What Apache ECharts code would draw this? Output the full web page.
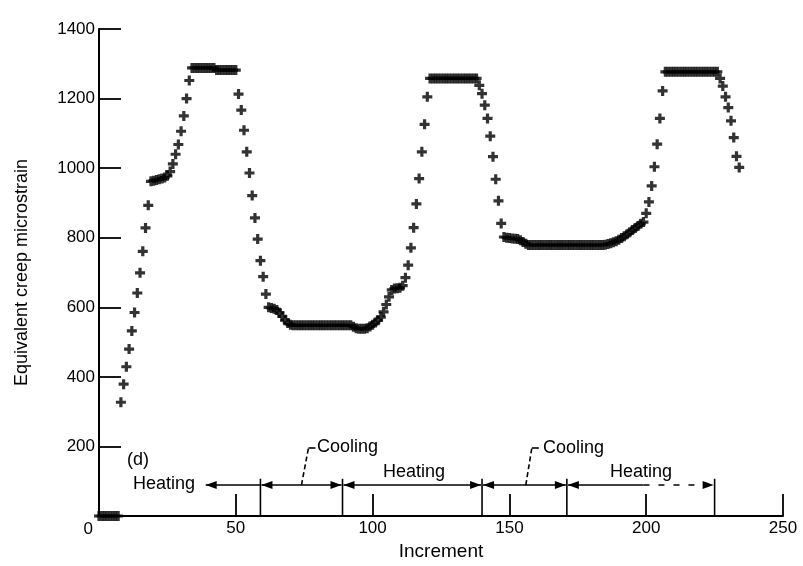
<!DOCTYPE html>
<html><head><meta charset="utf-8">
<script src="https://cdn.jsdelivr.net/npm/echarts@6/dist/echarts.min.js"></script>
<style>html,body{margin:0;padding:0;background:#fff}#c{width:803px;height:566px}</style>
</head><body><div id="c"></div>
<script>
// ---- data: equivalent creep microstrain, one value per increment ----
const heating1Start = 0;
const heating1 = [0,0,0,0,0,0,0,0,
  327,379,429,480,532,585,641,699,761,828,893,
  962,964,966,968,970,973,978,
  990,1012,1040,1068,1106,1150,1200,1252,
  1288,1288,1288,1288,1288,1288,1288,1288,1288,
  1282,1282,1282,1282,1282,1282,1282,1282,
  1213,1167,1109,1047,986,921,857,796];
const cooling1Start = 59;
const cooling1 = [734,688,638,
  600,598,596,592,584,574,563,555,550,
  548,548,548,548,548,548,548,548,548,548,548,548,548,548,548,548,548,548,548];
const heating2Start = 90;
const heating2 = [548,548,548,
  544,540,538,538,538,540,
  545,550,556,563,572,587,608,630,650,654,655,656,662,
  685,721,771,829,897,970,1047,1126,1205,
  1258,1258,1258,1258,1258,1258,1258,1258,1258,1258,1258,1258,1258,1258,1258,1258,1258,1258,
  1238,1214];
const cooling2Start = 141;
const cooling2 = [1181,1143,1092,1033,968,906,841,
  802,800,799,798,797,796,793,788,783,
  779,779,779,779,779,779,779,779,779,779,779,779,779,779,779];
const heating3Start = 172;
const heating3 = [779,779,779,779,779,779,779,779,779,779,779,779,779,
  780,782,784,787,790,794,799,804,810,816,822,828,834,840,
  845,870,903,949,1004,1069,1143,1222,
  1277,1277,1277,1277,1277,1277,1277,1277,1277,1277,1277,1277,1277,1277,1277,1277,1277,1277,1277,1277,
  1258,1236,1205,1174,1136,1088,1034,1002];

// ---- axis ticks ----
const xTicks = [0, 50, 100, 150, 200, 250];
const yTicks = [0, 200, 400, 600, 800, 1000, 1200, 1400];

// ---- annotation (in data units) ----
const phaseBounds = [59, 89, 140, 171, 225];
const firstArrowTip = 39;
const arrowLevel = 89;
const boundTop = 107;

const segments = [[heating1Start, heating1],[cooling1Start, cooling1],[heating2Start, heating2],[cooling2Start, cooling2],[heating3Start, heating3]];
const points = [];
segments.forEach(([s, arr]) => arr.forEach((v, i) => points.push([s + i, v])));

const numFont = "'Liberation Sans','Arial',sans-serif";
const txtFont = "'Liberation Sans','Arial',sans-serif";
const ink = '#000';
const plus = 'path://M3.4,0H6.6V3.4H10V6.6H6.6V10H3.4V6.6H0V3.4H3.4Z';

const chart = echarts.init(document.getElementById('c'), null, {renderer:'canvas'});
chart.setOption({
  animation:false,
  backgroundColor:'#fff',
  grid:{left:99, right:20, top:29, bottom:50},
  xAxis:{type:'value', min:xTicks[0], max:xTicks[xTicks.length-1], interval:50,
    name:'Increment', nameLocation:'middle', nameGap:24,
    nameTextStyle:{fontFamily:txtFont, fontSize:19, color:ink},
    axisLine:{lineStyle:{color:ink, width:2}},
    axisTick:{inside:true, length:22, lineStyle:{color:ink, width:1.8}},
    axisLabel:{showMinLabel:false, margin:4, fontFamily:numFont, fontSize:17, color:ink, formatter: v => String(v)},
    splitLine:{show:false}},
  yAxis:{type:'value', min:yTicks[0], max:yTicks[yTicks.length-1], interval:200,
    name:'Equivalent creep microstrain', nameLocation:'middle', nameGap:68,
    nameTextStyle:{fontFamily:txtFont, fontSize:18, color:ink},
    axisLine:{lineStyle:{color:ink, width:2}},
    axisTick:{inside:true, length:22, lineStyle:{color:ink, width:1.8}},
    axisLabel:{showMinLabel:false, margin:4, fontFamily:numFont, fontSize:17, color:ink, formatter: v => String(v)},
    splitLine:{show:false}},
  series:[{type:'scatter', data:points, symbol:plus, symbolSize:10,
    itemStyle:{color:ink}, silent:true}]
});

function P(x, y){ return chart.convertToPixel({gridIndex:0}, [x, y]); }
const g = [];
const lineStyle = {stroke:ink, lineWidth:1.6};
function seg(x1,y1,x2,y2,dash){ g.push({type:'line', shape:{x1,y1,x2,y2}, style:Object.assign({}, lineStyle, dash?{lineDash:dash}:{}), silent:true}); }
function head(tipX, y, dir){ // dir -1: pointing left, +1 pointing right
  const L = 11, H = 4;
  g.push({type:'polygon', shape:{points:[[tipX,y],[tipX - dir*L, y-H],[tipX - dir*L, y+H]]}, style:{fill:ink}, silent:true});
}
const yA = P(0, arrowLevel)[1];
const y0 = P(0, 0)[1];
const yT = P(0, boundTop)[1];
const bx = phaseBounds.map(b => P(b, 0)[0]);
bx.forEach(x => seg(x, y0, x, yT));
// first heating arrow
const tip1 = P(firstArrowTip, 0)[0];
seg(tip1, yA, bx[0], yA); head(tip1, yA, -1);
// intermediate arrows
for (let i = 0; i < bx.length - 1; i++) {
  const a = bx[i] + 1, b = bx[i+1] - 1;
  if (i === bx.length - 2) {
    const mid = P(199, 0)[0];
    seg(a, yA, mid, yA);
    seg(mid, yA, b - 10, yA, [6, 9]);
  } else {
    seg(a, yA, b, yA);
  }
  head(a, yA, -1); head(b, yA, 1);
}
// leader lines for Cooling labels
const c1 = P(74, 0)[0], c2 = P(156, 0)[0];
seg(c1, yA, c1 + 7, 448, [5, 3]); seg(c1 + 7, 448, c1 + 14, 448);
seg(c2, yA, c2 + 6, 448, [5, 3]); seg(c2 + 6, 448, c2 + 13, 448);

function txt(t, x, y, size, align){ g.push({type:'text', x, y, style:{text:t, fill:ink, font:size + 'px ' + txtFont, textAlign:align||'left', textVerticalAlign:'middle'}, silent:true}); }
txt('(d)', 127, 460, 18);
txt('Heating', 133, 484, 18);
txt('Cooling', 317, 447, 18);
txt('Heating', 383, 472, 18);
txt('Cooling', 543, 448, 18);
txt('Heating', 610, 472, 18);
g.push({type:'text', x:P(0,0)[0] - 6, y:y0 + 13, style:{text:String(xTicks[0]), fill:ink, font:'17px ' + numFont, textAlign:'right', textVerticalAlign:'middle'}, silent:true});
chart.setOption({graphic:g});
</script></body></html>
